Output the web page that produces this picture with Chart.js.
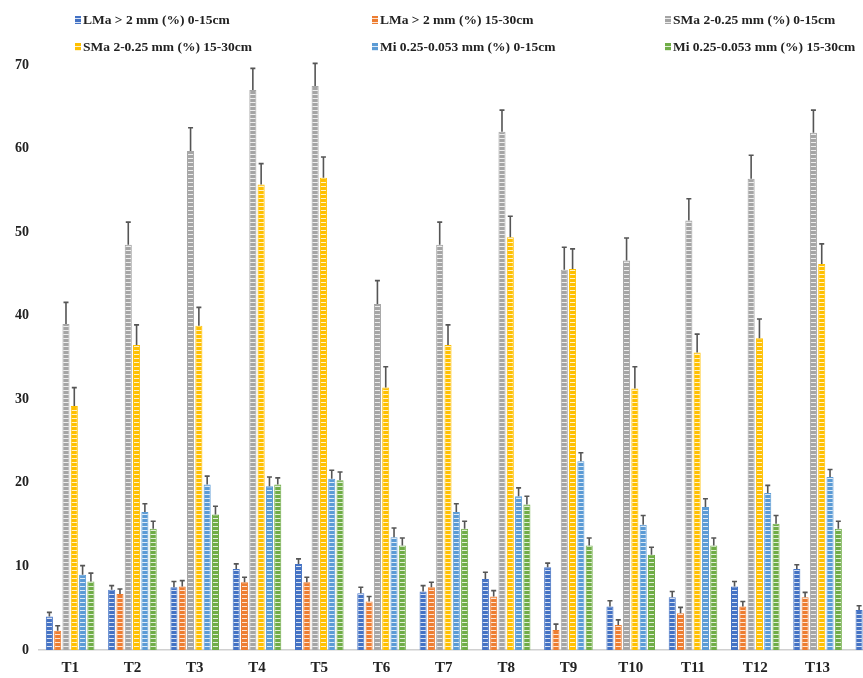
<!DOCTYPE html>
<html>
<head>
<meta charset="utf-8">
<script src="https://cdn.jsdelivr.net/npm/chart.js@4"></script>
<style>
  html, body { margin: 0; padding: 0; background: #fff; overflow: hidden; }
  #wrap { width: 915px; height: 678px; }
</style>
</head>
<body>
<div id="wrap"><canvas id="aggChart" width="915" height="678"></canvas></div>
<script>
// categories (the 14th one is cut off by the right edge, as in the original)
var categories = ['T1', 'T2', 'T3', 'T4', 'T5', 'T6', 'T7', 'T8', 'T9', 'T10', 'T11', 'T12', 'T13', 'T14'];

var seriesNames = [
    'LMa > 2 mm (%) 0-15cm',
    'LMa > 2 mm (%) 15-30cm',
    'SMa 2-0.25 mm (%) 0-15cm',
    'SMa 2-0.25 mm (%) 15-30cm',
    'Mi 0.25-0.053 mm (%) 0-15cm',
    'Mi 0.25-0.053 mm (%) 15-30cm'
];

var lmaTop = [4.0, 7.2, 7.5, 9.7, 10.3, 6.8, 7.0, 8.5, 9.9, 5.2, 6.3, 7.6, 9.7, 4.8];
var lmaSub = [2.3, 6.7, 7.6, 8.1, 8.1, 5.8, 7.5, 6.4, 2.4, 3.0, 4.4, 5.2, 6.3, null];
var smaTop = [39.0, 48.5, 59.7, 67.0, 67.5, 41.4, 48.5, 62.0, 45.5, 46.6, 51.4, 56.4, 61.9, null];
var smaSub = [29.2, 36.5, 38.8, 55.7, 56.5, 31.4, 36.5, 49.4, 45.6, 31.3, 35.6, 37.3, 46.2, null];
var miTop = [9.0, 16.5, 19.8, 19.6, 20.5, 13.5, 16.5, 18.4, 22.6, 15.0, 17.1, 18.8, 20.7, null];
var miSub = [8.2, 14.5, 16.2, 19.8, 20.3, 12.5, 14.5, 17.4, 12.5, 11.4, 12.5, 15.1, 14.5, null];

// error bars (upper half only)
var lmaTopErr = [0.5, 0.5, 0.7, 0.6, 0.6, 0.7, 0.7, 0.8, 0.5, 0.7, 0.7, 0.6, 0.5, 0.5];
var lmaSubErr = [0.6, 0.6, 0.7, 0.6, 0.6, 0.6, 0.6, 0.7, 0.7, 0.6, 0.7, 0.6, 0.6, null];
var smaTopErr = [2.6, 2.7, 2.8, 2.6, 2.7, 2.8, 2.7, 2.6, 2.7, 2.7, 2.6, 2.8, 2.7, null];
var smaSubErr = [2.2, 2.4, 2.2, 2.5, 2.5, 2.5, 2.4, 2.5, 2.4, 2.6, 2.2, 2.3, 2.4, null];
var miTopErr = [1.1, 1.0, 1.0, 1.1, 1.0, 1.1, 1.0, 1.0, 1.0, 1.1, 1.0, 0.9, 0.9, null];
var miSubErr = [1.0, 0.9, 1.0, 0.8, 1.0, 0.9, 0.9, 1.0, 0.9, 0.9, 0.9, 1.0, 0.9, null];

var colors = ['#4472C4', '#ED7D31', '#A5A5A5', '#FFC000', '#5B9BD5', '#70AD47'];

var yTicks = [0, 10, 20, 30, 40, 50, 60, 70];

var serif = '"Liberation Serif", "Times New Roman", serif';

function stripe(color) {
    var c = document.createElement('canvas');
    c.width = 4; c.height = 4;
    var g = c.getContext('2d');
    g.fillStyle = color;
    g.fillRect(0, 0, 4, 4);
    g.fillStyle = 'rgba(255,255,255,0.8)';
    g.fillRect(0, 2, 4, 1);
    return g.createPattern(c, 'repeat');
}

var values = [lmaTop, lmaSub, smaTop, smaSub, miTop, miSub];
var errors = [lmaTopErr, lmaSubErr, smaTopErr, smaSubErr, miTopErr, miSubErr];

var datasets = values.map(function (v, i) {
    return {
        label: seriesNames[i],
        data: v,
        errors: errors[i],
        backgroundColor: stripe(colors[i]),
        borderColor: colors[i],
        borderWidth: 1,
        borderSkipped: 'bottom',
        categoryPercentage: 0.8,
        barPercentage: 0.85
    };
});

// error bars drawn through the y scale
const errorBars = {
    id: 'errorBars',
    afterDatasetsDraw(chart) {
        const ctx = chart.ctx;
        const y = chart.scales.y;
        ctx.save();
        ctx.strokeStyle = '#555555';
        ctx.lineWidth = 1.6;
        chart.data.datasets.forEach(function (ds, di) {
            const meta = chart.getDatasetMeta(di);
            meta.data.forEach(function (bar, i) {
                const v = ds.data[i], e = ds.errors[i];
                if (v == null || e == null) return;
                const yTop = y.getPixelForValue(v + e);
                ctx.beginPath();
                ctx.moveTo(bar.x, bar.y);
                ctx.lineTo(bar.x, yTop);
                ctx.moveTo(bar.x - 2.5, yTop);
                ctx.lineTo(bar.x + 2.5, yTop);
                ctx.stroke();
            });
        });
        ctx.restore();
    }
};

// legend in a fixed 3 x 2 grid, like the original
const gridLegend = {
    id: 'gridLegend',
    afterDraw(chart) {
        const ctx = chart.ctx;
        const colX = [75, 372, 665];
        const rowY = [20, 47];
        ctx.save();
        ctx.font = 'bold 13.5px ' + serif;
        ctx.textBaseline = 'middle';
        chart.data.datasets.forEach(function (ds, i) {
            const x = colX[i % 3], yy = rowY[Math.floor(i / 3)];
            ctx.fillStyle = ds.backgroundColor;
            ctx.fillRect(x, yy - 4, 6, 8);
            ctx.fillStyle = '#222';
            ctx.fillText(ds.label, x + 8, yy + 1);
        });
        ctx.restore();
    }
};

var ctx = document.getElementById('aggChart').getContext('2d');

var chart = new Chart(ctx, {
    type: 'bar',
    data: {
        labels: categories,
        datasets: datasets
    },
    options: {
        responsive: false,
        animation: false,
        layout: { padding: { top: 65, right: 4, left: 0, bottom: 0 } },
        plugins: {
            legend: { display: false },
            tooltip: { enabled: false }
        },
        scales: {
            x: {
                grid: { display: false, drawTicks: false },
                border: { display: true, color: '#D0D0D0', width: 1.5 },
                ticks: {
                    color: '#222',
                    padding: 9,
                    font: { family: serif, size: 15, weight: 'bold' }
                },
                afterFit: function (scale) { scale.height = 28; }
            },
            y: {
                min: 0,
                max: 70,
                grid: { display: false, drawTicks: false },
                border: { display: false },
                afterBuildTicks: function (scale) {
                    scale.ticks = yTicks.map(function (v) { return { value: v }; });
                },
                ticks: {
                    color: '#222',
                    padding: 10,
                    font: { family: serif, size: 14, weight: 'bold' }
                },
                afterFit: function (scale) { scale.width = 39; }
            }
        }
    },
    plugins: [errorBars, gridLegend]
});
</script>
</body>
</html>
